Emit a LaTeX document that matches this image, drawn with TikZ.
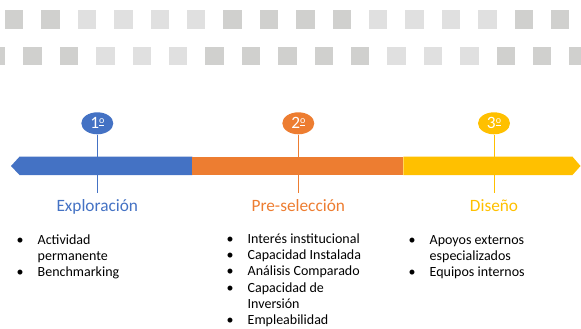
\documentclass[tikz,border=0pt]{standalone}
\usepackage{fontspec}
\setmainfont{Carlito}
\usetikzlibrary{shapes.geometric}
\definecolor{azul}{HTML}{4472C4}
\definecolor{naranja}{HTML}{ED7D31}
\definecolor{amarillo}{HTML}{FFC000}
\definecolor{grisosc}{HTML}{D0D0CE}
\definecolor{grisclr}{HTML}{E0E0E0}
\newcommand{\ordo}{\raisebox{5pt}{\fontsize{10}{10}\selectfont\setbox0\hbox{o}\rlap{\rule[-1.6pt]{\wd0}{0.9pt}}\box0}}
\begin{document}
\begin{tikzpicture}[x=1pt,y=-1pt,line join=round,
	paso/.style={ellipse,fill=#1,text=white,minimum width=32pt,minimum height=22pt,inner sep=0pt,font=\fontsize{17.3}{18}\selectfont},
	etapa/.style={text=#1,anchor=base,inner sep=6pt,text height=12pt,font=\fontsize{17.3}{18}\selectfont},
	lista/.style={anchor=base west,inner sep=0pt,font=\fontsize{14}{16.2}\selectfont},
	guia/.style={draw=#1,line width=1pt}]
	\useasboundingbox (0,0) rectangle (581,329);
	\clip (0,0) rectangle (581,329);
	\foreach \i/\c in {0/grisosc,1/grisosc,2/grisclr,3/grisclr,4/grisclr,5/grisclr,6/grisosc,7/grisosc,8/grisosc,9/grisosc,10/grisclr,11/grisclr,12/grisclr,13/grisclr,14/grisosc,15/grisosc}
		\fill[\c] (5+36.4*\i,10) rectangle ++(18.4,18.7);
	\foreach \i/\c in {-1/grisosc,0/grisosc,1/grisosc,2/grisclr,3/grisclr,4/grisclr,5/grisosc,6/grisosc,7/grisosc,8/grisosc,9/grisosc,10/grisclr,11/grisclr,12/grisclr,13/grisosc,14/grisosc,15/grisosc}
		\fill[\c] (23.3+36.4*\i,46.7) rectangle ++(18.4,18.3);
	\node[paso=azul] (n1) at (97.3,123.3) {1\ordo};
	\node[paso=naranja] (n2) at (298.3,123.3) {2\ordo};
	\node[paso=amarillo] (n3) at (494,123.3) {3\ordo};
	\node[etapa=azul] (e1) at (97.3,211) {Exploración};
	\node[etapa=naranja] (e2) at (298.3,211) {Pre-selección};
	\node[etapa=amarillo] (e3) at (494,211) {Diseño};
	\draw[guia=azul] (n1) -- (e1);
	\draw[guia=naranja] (n2) -- (e2);
	\draw[guia=amarillo] (n3) -- (e3);
	\fill[azul] (11,166) -- (19.5,156.7) -- (192.3,156.7) -- (192.3,175) -- (19.5,175) -- cycle;
	\fill[naranja] (192.3,156.7) rectangle (403.3,175);
	\fill[amarillo] (403.3,156.7) -- (572.5,156.7) -- (580.5,166) -- (572.5,175) -- (403.3,175) -- cycle;
	\node[lista] (l1) at (16.5,244.5) {\begin{tabular}[t]{@{}p{21pt}@{}l@{}}
		\textbullet & Actividad\\
		 & permanente\\
		\textbullet & Benchmarking
	\end{tabular}};
	\node[lista] (l2) at (226.5,243.5) {\begin{tabular}[t]{@{}p{21pt}@{}l@{}}
		\textbullet & Interés institucional\\
		\textbullet & Capacidad Instalada\\
		\textbullet & Análisis Comparado\\
		\textbullet & Capacidad de\\
		 & Inversión\\
		\textbullet & Empleabilidad
	\end{tabular}};
	\node[lista] (l3) at (408.5,244.5) {\begin{tabular}[t]{@{}p{21pt}@{}l@{}}
		\textbullet & Apoyos externos\\
		 & especializados\\
		\textbullet & Equipos internos
	\end{tabular}};
\end{tikzpicture}
\end{document}
